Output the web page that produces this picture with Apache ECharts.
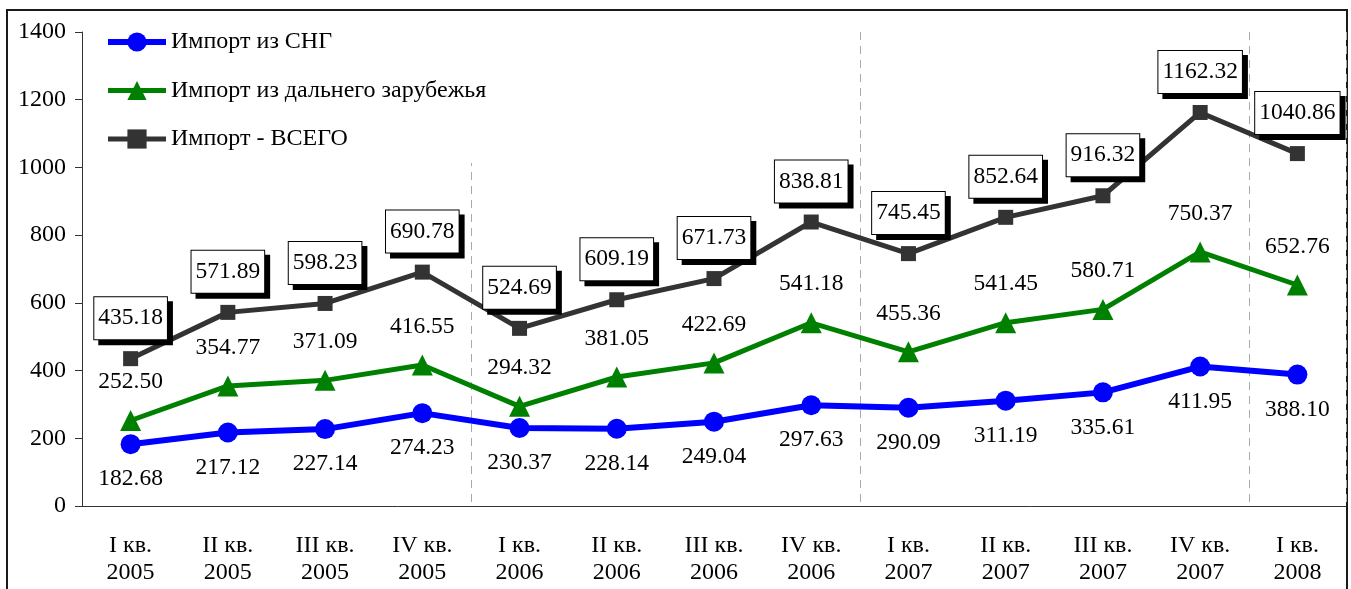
<!DOCTYPE html>
<html>
<head>
<meta charset="utf-8">
<script src="https://cdn.jsdelivr.net/npm/echarts@6/dist/echarts.min.js"></script>
<style>
  html, body { margin: 0; padding: 0; background: #fff; }
  #frame { position: absolute; left: 6px; top: 9px; width: 1338px; height: 620px; border: 2px solid #1a1a1a; }
  #chart { position: absolute; left: 0; top: 0; width: 1351px; height: 589px; }
</style>
</head>
<body>
<div id="frame"></div>
<div id="chart"></div>
<script>
const categories = ['I кв.\n2005', 'II кв.\n2005', 'III кв.\n2005', 'IV кв.\n2005',
                    'I кв.\n2006', 'II кв.\n2006', 'III кв.\n2006', 'IV кв.\n2006',
                    'I кв.\n2007', 'II кв.\n2007', 'III кв.\n2007', 'IV кв.\n2007',
                    'I кв.\n2008'];
const seriesNames = ['Импорт из СНГ', 'Импорт из дальнего зарубежья', 'Импорт - ВСЕГО'];
const importCIS = [182.68, 217.12, 227.14, 274.23, 230.37, 228.14, 249.04, 297.63, 290.09, 311.19, 335.61, 411.95, 388.10];
const importFar = [252.50, 354.77, 371.09, 416.55, 294.32, 381.05, 422.69, 541.18, 455.36, 541.45, 580.71, 750.37, 652.76];
const importTotal = [435.18, 571.89, 598.23, 690.78, 524.69, 609.19, 671.73, 838.81, 745.45, 852.64, 916.32, 1162.32, 1040.86];
const yTicks = { min: 0, max: 1400, interval: 200 };

const FONT = '"Liberation Serif", "Times New Roman", serif';
const fmt = p => p.value.toFixed(2);

const chart = echarts.init(document.getElementById('chart'));
chart.setOption({
  animation: false,
  textStyle: { fontFamily: FONT },
  grid: { left: 82, right: 5, top: 32, bottom: 83 },
  legend: {
    orient: 'vertical',
    left: 97,
    top: 20,
    padding: [10, 14, 12, 8],
    backgroundColor: '#fff',
    itemWidth: 58,
    itemHeight: 24,
    itemGap: 24.5,
    itemGap: 24.5,
    textStyle: { fontFamily: FONT, fontSize: 24, color: '#000' },
    data: [
      { name: seriesNames[0], lineStyle: { width: 6 } },
      { name: seriesNames[1], lineStyle: { width: 5 } },
      { name: seriesNames[2], lineStyle: { width: 5 } }
    ]
  },
  xAxis: {
    type: 'category',
    data: categories,
    boundaryGap: true,
    axisLine: { lineStyle: { color: '#333', width: 1 } },
    axisTick: { interval: 3, length: 8, lineStyle: { color: '#333' } },
    splitLine: { show: true, interval: 3, lineStyle: { color: '#aaa', type: [8, 6], width: 1 } },
    axisLabel: { interval: 0, fontFamily: FONT, fontSize: 24, color: '#000', lineHeight: 27, margin: 26 }
  },
  yAxis: {
    type: 'value',
    min: yTicks.min, max: yTicks.max, interval: yTicks.interval,
    axisLine: { show: true, lineStyle: { color: '#333', width: 1 } },
    axisTick: { show: true, length: 7, lineStyle: { color: '#333' } },
    splitLine: { show: false },
    axisLabel: { fontFamily: FONT, fontSize: 24, color: '#000', margin: 16, formatter: v => String(v) }
  },
  series: [
    {
      name: seriesNames[0], type: 'line', data: importCIS,
      symbol: 'circle', symbolSize: 20,
      itemStyle: { color: '#0000ff' },
      lineStyle: { color: '#0000ff', width: 6 },
      label: { show: true, position: 'bottom', distance: 13, formatter: fmt,
               fontFamily: FONT, fontSize: 23.5, color: '#000' },
      z: 3
    },
    {
      name: seriesNames[1], type: 'line', data: importFar,
      symbol: 'triangle', symbolSize: 21,
      itemStyle: { color: '#008000' },
      lineStyle: { color: '#008000', width: 5 },
      label: { show: true, position: 'top', distance: 16, formatter: fmt,
               fontFamily: FONT, fontSize: 23.5, color: '#000' },
      z: 3
    },
    {
      name: seriesNames[2], type: 'line', data: importTotal,
      symbol: 'rect', symbolSize: 15,
      itemStyle: { color: '#333333' },
      lineStyle: { color: '#333333', width: 5 },
      label: { show: true, position: 'top', distance: 12, formatter: fmt,
               fontFamily: FONT, fontSize: 23.5, color: '#000', lineHeight: 24,
               backgroundColor: '#fff', borderColor: '#000', borderWidth: 1,
               padding: [9, 4, 9, 4],
               shadowColor: '#000', shadowBlur: 0, shadowOffsetX: 5, shadowOffsetY: 5 },
      z: 4
    }
  ]
});
</script>
</body>
</html>
